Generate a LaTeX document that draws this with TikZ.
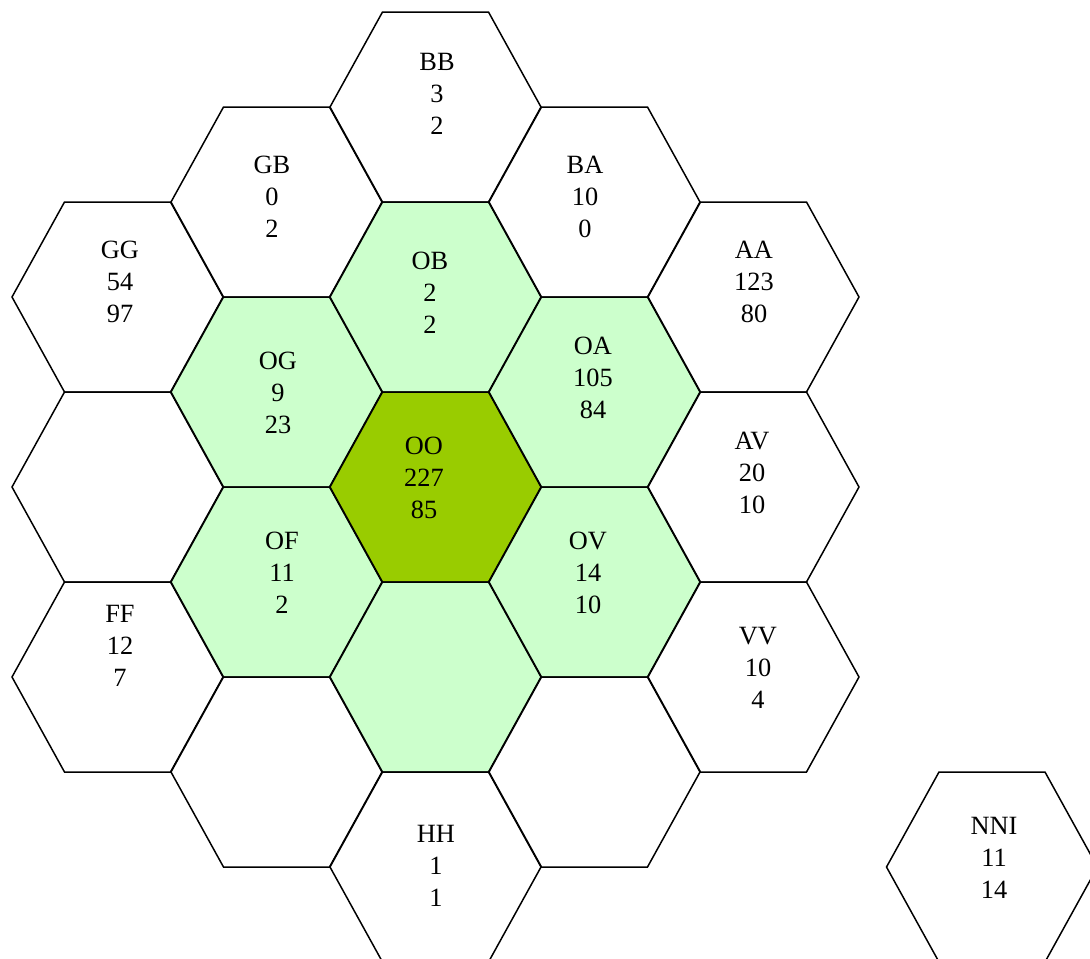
\documentclass[tikz,border=0pt]{standalone}
\usepackage{fontspec}
\setmainfont{Liberation Serif}
\usepackage{xcolor}
\usepackage{tikz}
\usetikzlibrary{positioning}
\definecolor{cellgreen}{RGB}{204,255,204}
\definecolor{coregreen}{RGB}{153,204,0}
\tikzset{
hexcell/.style={
draw=black,
line width=0.85pt,
line join=miter
},
celltext/.style={
align=center,
inner sep=0pt,
font=\fontsize{15}{18.2}\selectfont
}
}

\begin{document}
\begin{tikzpicture}[x=0.02cm,y=-0.02cm]
\useasboundingbox (0,0) rectangle (1090,958);

% hex grid: column / half-row / fill
\foreach \c/\k/\f in {0/2/white,0/4/white,0/6/white,
1/1/white,1/3/cellgreen,1/5/cellgreen,1/7/white,
2/0/white,2/2/cellgreen,2/4/coregreen,2/6/cellgreen,2/8/white,
3/1/white,3/3/cellgreen,3/5/cellgreen,3/7/white,
4/2/white,4/4/white,4/6/white,
5.5/8/white}
\draw[hexcell,fill=\f] ({117+159*\c},{107+95*\k})
++(-105,0) -- ++(52.5,-95) -- ++(106,0) -- ++(52.5,95)
-- ++(-52.5,95) -- ++(-106,0) -- cycle;

\node[celltext] (bb) at (437,94) {BB\\3\\2};
\node[celltext] (gb) at (272,197) {GB\\0\\2};
\node[celltext] (ba) at (585,197) {BA\\10\\0};
\node[celltext] (gg) at (120,282) {GG\\54\\97};
\node[celltext] (ob) at (430,293) {OB\\2\\2};
\node[celltext] (aa) at (754,282) {AA\\123\\80};
\node[celltext] (og) at (278,393) {OG\\9\\23};
\node[celltext] (oa) at (593,378) {OA\\105\\84};
\node[celltext] (oo) at (424,478) {OO\\227\\85};
\node[celltext] (av) at (752,473) {AV\\20\\10};
\node[celltext] (of) at (282,573) {OF\\11\\2};
\node[celltext] (ov) at (588,573) {OV\\14\\10};
\node[celltext] (ff) at (120,646) {FF\\12\\7};
\node[celltext] (vv) at (758,668) {VV\\10\\4};
\node[celltext] (hh) at (436,866) {HH\\1\\1};
\node[celltext] (nni) at (994,858) {NNI\\11\\14};
\end{tikzpicture}
\end{document}
